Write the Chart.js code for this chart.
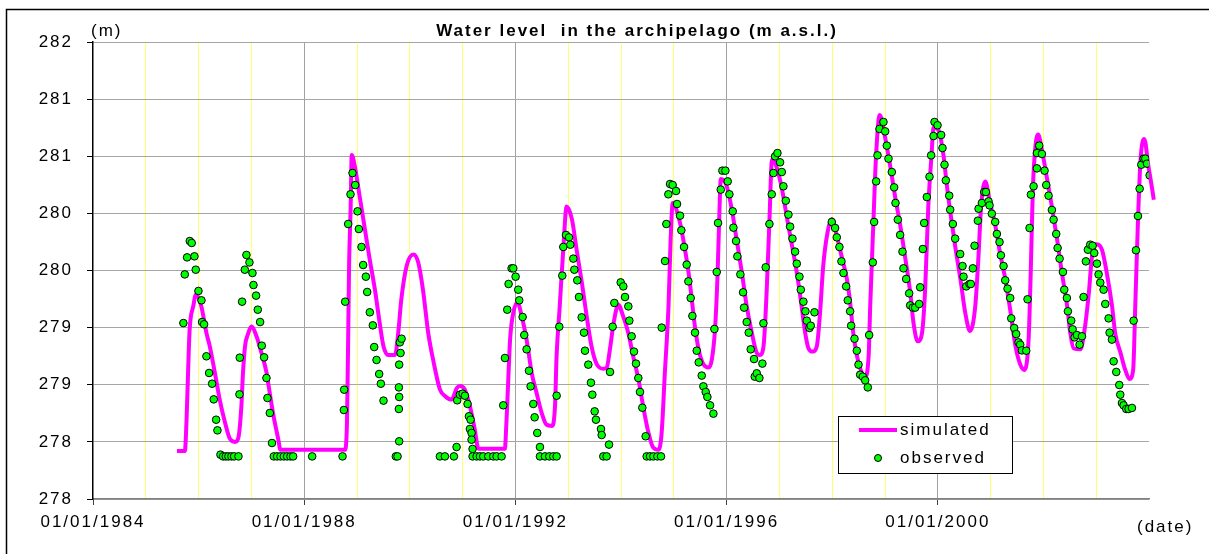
<!DOCTYPE html>
<html>
<head>
<meta charset="utf-8">
<title>Water level in the archipelago</title>
<script src="https://cdn.jsdelivr.net/npm/chart.js@4.4.0/dist/chart.umd.min.js"></script>
<style>
    html, body { margin: 0; padding: 0; background: #fff; }
    #wrap { position: relative; width: 1209px; height: 554px; }
</style>
</head>
<body>
<div id="wrap"><canvas id="levelChart" width="1209" height="554"></canvas></div>
<script>
// Axis labels (the y labels are shown rounded, as in the original)
const yTickLabels = ['278', '278', '279', '279', '280', '280', '281', '281', '282'];
const labelYears = [1984, 1988, 1992, 1996, 2000];
const titleText = 'Water level  in the archipelago (m a.s.l.)';

// Simulated level (decimal year / m a.s.l.)
const simYears = [
    1985.59, 1985.74, 1985.77, 1985.80, 1985.83, 1985.90, 1985.95, 1986.05, 1986.15, 1986.21,
    1986.31, 1986.40, 1986.50, 1986.59, 1986.69, 1986.75, 1986.81, 1986.84, 1986.88, 1986.94,
    1987.00, 1987.10, 1987.19, 1987.29, 1987.33, 1987.41, 1987.51, 1987.55, 1988.77, 1988.81,
    1988.83, 1988.85, 1988.88, 1988.90, 1988.96, 1989.05, 1989.15, 1989.24, 1989.34, 1989.43,
    1989.50, 1989.59, 1989.72, 1989.78, 1989.84, 1989.94, 1990.07, 1990.16, 1990.25, 1990.35,
    1990.45, 1990.57, 1990.67, 1990.79, 1990.89, 1990.95, 1991.04, 1991.14, 1991.23, 1991.30,
    1991.80, 1991.83, 1991.87, 1991.90, 1991.96, 1992.04, 1992.12, 1992.21, 1992.31, 1992.40,
    1992.50, 1992.59, 1992.69, 1992.75, 1992.78, 1992.84, 1992.91, 1992.97, 1993.07, 1993.16,
    1993.26, 1993.35, 1993.44, 1993.54, 1993.67, 1993.73, 1993.79, 1993.86, 1993.95, 1994.04,
    1994.14, 1994.23, 1994.33, 1994.42, 1994.52, 1994.61, 1994.71, 1994.77, 1994.83, 1994.90,
    1994.94, 1994.98, 1995.09, 1995.18, 1995.28, 1995.34, 1995.40, 1995.47, 1995.56, 1995.66,
    1995.72, 1995.78, 1995.83, 1995.86, 1995.89, 1996.00, 1996.10, 1996.19, 1996.29, 1996.38,
    1996.48, 1996.57, 1996.63, 1996.70, 1996.76, 1996.81, 1996.86, 1996.95, 1997.05, 1997.14,
    1997.23, 1997.33, 1997.42, 1997.49, 1997.55, 1997.63, 1997.71, 1997.77, 1997.83, 1997.91,
    1997.99, 1998.09, 1998.18, 1998.28, 1998.34, 1998.40, 1998.47, 1998.54, 1998.62, 1998.69,
    1998.72, 1998.78, 1998.83, 1998.90, 1999.00, 1999.10, 1999.19, 1999.29, 1999.38, 1999.48,
    1999.54, 1999.62, 1999.70, 1999.76, 1999.82, 1999.88, 1999.92, 2000.01, 2000.11, 2000.17,
    2000.24, 2000.33, 2000.43, 2000.52, 2000.61, 2000.71, 2000.77, 2000.82, 2000.90, 2000.99,
    2001.09, 2001.18, 2001.28, 2001.37, 2001.47, 2001.56, 2001.64, 2001.72, 2001.76, 2001.80,
    2001.85, 2001.90, 2001.97, 2002.07, 2002.16, 2002.26, 2002.35, 2002.45, 2002.51, 2002.57,
    2002.70, 2002.77, 2002.86, 2002.92, 2003.01, 2003.11, 2003.20, 2003.30, 2003.36, 2003.46,
    2003.55, 2003.63, 2003.70, 2003.74, 2003.79, 2003.84, 2003.91, 2003.99, 2004.09, 2004.12
];
const simLevels = [
    278.42, 278.42, 278.67, 279.10, 279.48, 279.69, 279.79, 279.69, 279.45, 279.34,
    279.10, 278.87, 278.67, 278.53, 278.50, 278.53, 278.81, 279.10, 279.34, 279.45,
    279.51, 279.42, 279.28, 279.10, 278.98, 278.75, 278.52, 278.43, 278.43, 278.67,
    279.31, 280.04, 280.56, 281.01, 280.91, 280.65, 280.36, 280.10, 279.83, 279.54,
    279.34, 279.26, 279.26, 279.45, 279.75, 280.04, 280.14, 280.07, 279.83, 279.45,
    279.20, 278.96, 278.90, 278.87, 278.97, 278.99, 278.96, 278.81, 278.61, 278.44,
    278.44, 278.67, 279.10, 279.40, 279.63, 279.72, 279.60, 279.40, 279.10, 278.93,
    278.75, 278.65, 278.64, 278.81, 279.25, 279.69, 280.21, 280.56, 280.45, 280.18,
    279.89, 279.60, 279.34, 279.18, 279.14, 279.15, 279.31, 279.54, 279.70, 279.60,
    279.45, 279.25, 279.05, 278.81, 278.58, 278.45, 278.43, 278.58, 279.10, 279.69,
    280.27, 280.59, 280.47, 280.27, 279.98, 279.75, 279.51, 279.31, 279.18, 279.15,
    279.22, 279.48, 279.98, 280.45, 280.80, 280.74, 280.53, 280.27, 279.98, 279.69,
    279.45, 279.28, 279.26, 279.34, 279.83, 280.42, 280.97, 280.90, 280.71, 280.47,
    280.24, 279.98, 279.69, 279.45, 279.32, 279.29, 279.34, 279.63, 280.04, 280.33,
    280.45, 280.30, 280.12, 279.92, 279.72, 279.45, 279.25, 279.13, 279.07, 279.25,
    279.69, 280.42, 281.00, 281.36, 281.17, 280.91, 280.65, 280.39, 280.12, 279.80,
    279.54, 279.38, 279.45, 279.83, 280.56, 281.00, 281.25, 281.23, 281.00, 280.75,
    280.50, 280.21, 279.92, 279.63, 279.47, 279.69, 280.12, 280.56, 280.78, 280.59,
    280.39, 280.15, 279.92, 279.66, 279.34, 279.18, 279.13, 279.40, 279.98, 280.71,
    281.09, 281.19, 281.06, 280.80, 280.56, 280.27, 279.98, 279.69, 279.45, 279.32,
    279.31, 279.45, 279.80, 280.12, 280.23, 280.18, 279.98, 279.69, 279.45, 279.28,
    279.13, 279.05, 279.13, 279.69, 280.42, 280.97, 281.15, 280.91, 280.62, 280.50
];

// Observed level (decimal year / m a.s.l.)
const obsYears = [
    1985.712, 1985.738, 1985.782, 1985.833, 1985.870, 1985.921, 1985.946, 1985.997, 1986.054, 1986.066,
    1986.104, 1986.148, 1986.199, 1986.256, 1986.287, 1986.332, 1986.357, 1986.414, 1986.464, 1986.515,
    1986.565, 1986.622, 1986.673, 1986.755, 1986.774, 1986.780, 1986.824, 1986.875, 1986.906, 1986.963,
    1987.020, 1987.039, 1987.089, 1987.121, 1987.165, 1987.197, 1987.241, 1987.285, 1987.304, 1987.349,
    1987.390, 1987.424, 1987.487, 1987.551, 1987.614, 1987.677, 1987.740, 1987.791, 1988.151, 1988.726,
    1988.751, 1988.757, 1988.776, 1988.833, 1988.877, 1988.915, 1988.966, 1989.010, 1989.035, 1989.086,
    1989.117, 1989.168, 1989.193, 1989.243, 1989.300, 1989.326, 1989.370, 1989.420, 1989.452, 1989.502,
    1989.736, 1989.768, 1989.793, 1989.793, 1989.799, 1989.799, 1989.799, 1989.812, 1989.825, 1989.844,
    1990.570, 1990.665, 1990.835, 1990.886, 1990.898, 1990.949, 1991.000, 1991.044, 1991.094, 1991.120,
    1991.139, 1991.151, 1991.170, 1991.170, 1991.189, 1991.189, 1991.265, 1991.328, 1991.391, 1991.486,
    1991.581, 1991.644, 1991.739, 1991.770, 1991.802, 1991.846, 1991.871, 1991.928, 1991.960, 1992.004,
    1992.054, 1992.073, 1992.137, 1992.168, 1992.212, 1992.257, 1992.288, 1992.339, 1992.364, 1992.414,
    1992.465, 1992.465, 1992.560, 1992.642, 1992.718, 1992.781, 1992.781, 1992.831, 1992.888, 1992.907,
    1992.958, 1993.015, 1993.040, 1993.097, 1993.116, 1993.172, 1993.204, 1993.255, 1993.299, 1993.318,
    1993.381, 1993.431, 1993.457, 1993.501, 1993.526, 1993.621, 1993.634, 1993.665, 1993.728, 1993.773,
    1993.792, 1993.842, 1993.874, 1993.994, 1994.044, 1994.076, 1994.139, 1994.158, 1994.202, 1994.246,
    1994.284, 1994.328, 1994.360, 1994.404, 1994.467, 1994.486, 1994.550, 1994.613, 1994.689, 1994.758,
    1994.771, 1994.834, 1994.859, 1994.897, 1994.929, 1994.979, 1995.042, 1995.061, 1995.118, 1995.143,
    1995.194, 1995.244, 1995.276, 1995.320, 1995.352, 1995.402, 1995.434, 1995.472, 1995.529, 1995.560,
    1995.604, 1995.636, 1995.687, 1995.750, 1995.769, 1995.813, 1995.838, 1995.889, 1995.920, 1995.977,
    1996.021, 1996.053, 1996.116, 1996.129, 1996.179, 1996.204, 1996.261, 1996.312, 1996.331, 1996.381,
    1996.419, 1996.457, 1996.520, 1996.533, 1996.571, 1996.621, 1996.678, 1996.697, 1996.741, 1996.811,
    1996.855, 1996.887, 1996.918, 1996.963, 1997.013, 1997.045, 1997.076, 1997.121, 1997.171, 1997.203,
    1997.247, 1997.297, 1997.329, 1997.380, 1997.405, 1997.455, 1997.493, 1997.518, 1997.569, 1997.594,
    1997.664, 1997.992, 1998.055, 1998.087, 1998.137, 1998.175, 1998.213, 1998.264, 1998.295, 1998.340,
    1998.359, 1998.422, 1998.466, 1998.498, 1998.529, 1998.580, 1998.624, 1998.674, 1998.700, 1998.769,
    1998.794, 1998.832, 1998.858, 1998.896, 1998.971, 1999.003, 1999.034, 1999.066, 1999.129, 1999.173,
    1999.199, 1999.243, 1999.287, 1999.331, 1999.350, 1999.401, 1999.458, 1999.477, 1999.527, 1999.571,
    1999.647, 1999.666, 1999.717, 1999.742, 1999.792, 1999.843, 1999.874, 1999.919, 1999.938, 1999.995,
    2000.064, 2000.089, 2000.127, 2000.152, 2000.216, 2000.235, 2000.285, 2000.329, 2000.424, 2000.468,
    2000.487, 2000.538, 2000.601, 2000.626, 2000.664, 2000.696, 2000.759, 2000.772, 2000.835, 2000.879,
    2000.911, 2000.961, 2000.980, 2001.024, 2001.087, 2001.119, 2001.169, 2001.195, 2001.245, 2001.277,
    2001.321, 2001.372, 2001.391, 2001.447, 2001.485, 2001.530, 2001.561, 2001.593, 2001.675, 2001.700,
    2001.738, 2001.763, 2001.814, 2001.877, 2001.877, 2001.921, 2001.972, 2002.022, 2002.054, 2002.098,
    2002.161, 2002.193, 2002.243, 2002.269, 2002.307, 2002.370, 2002.395, 2002.445, 2002.464, 2002.527,
    2002.553, 2002.591, 2002.635, 2002.685, 2002.730, 2002.761, 2002.805, 2002.843, 2002.887, 2002.932,
    2002.963, 2003.014, 2003.045, 2003.077, 2003.140, 2003.172, 2003.235, 2003.254, 2003.298, 2003.330,
    2003.380, 2003.437, 2003.456, 2003.488, 2003.519, 2003.570, 2003.614, 2003.677, 2003.709, 2003.753,
    2003.791, 2003.823, 2003.854, 2003.898, 2003.930, 2003.962, 2004.012
];
const obsLevels = [
    279.540, 279.966, 280.115, 280.258, 280.241, 280.124, 280.007, 279.821, 279.739, 279.549,
    279.529, 279.249, 279.103, 279.009, 278.872, 278.694, 278.601, 278.388, 278.373, 278.373,
    278.373, 278.373, 278.373, 278.373, 278.916, 279.237, 279.727, 280.007, 280.136, 280.071,
    279.978, 279.873, 279.780, 279.657, 279.549, 279.342, 279.240, 279.059, 278.884, 278.753,
    278.490, 278.373, 278.373, 278.373, 278.373, 278.373, 278.373, 278.373, 278.373, 278.373,
    278.779, 278.957, 279.727, 280.407, 280.667, 280.853, 280.748, 280.518, 280.363, 280.206,
    280.048, 279.946, 279.812, 279.634, 279.520, 279.330, 279.217, 279.094, 279.009, 278.861,
    278.373, 278.373, 278.788, 278.977, 278.505, 278.893, 279.176, 279.371, 279.278, 279.403,
    278.373, 278.373, 278.373, 278.455, 278.864, 278.913, 278.922, 278.904, 278.832, 278.724,
    278.613, 278.694, 278.578, 278.519, 278.438, 278.373, 278.373, 278.373, 278.373, 278.373,
    278.373, 278.373, 278.373, 278.820, 279.234, 279.657, 279.882, 280.019, 280.019, 279.946,
    279.832, 279.739, 279.593, 279.435, 279.310, 279.123, 278.986, 278.832, 278.715, 278.578,
    278.455, 278.373, 278.373, 278.373, 278.373, 278.373, 278.904, 279.508, 279.955, 280.206,
    280.311, 280.290, 280.226, 280.104, 280.007, 279.914, 279.768, 279.590, 279.456, 279.298,
    279.176, 279.018, 278.913, 278.767, 278.694, 278.613, 278.560, 278.373, 278.373, 278.476,
    279.112, 279.508, 279.716, 279.896, 279.861, 279.768, 279.686, 279.561, 279.424, 279.290,
    279.185, 279.059, 278.937, 278.799, 278.549, 278.373, 278.373, 278.373, 278.373, 278.373,
    279.500, 280.083, 280.407, 280.667, 280.757, 280.748, 280.696, 280.582, 280.480, 280.352,
    280.206, 280.051, 279.905, 279.759, 279.602, 279.456, 279.298, 279.196, 279.080, 278.986,
    278.937, 278.893, 278.820, 278.747, 279.488, 279.987, 280.416, 280.708, 280.874, 280.874,
    280.780, 280.667, 280.518, 280.375, 280.258, 280.124, 279.966, 279.809, 279.675, 279.549,
    279.456, 279.310, 279.225, 279.071, 279.100, 279.059, 279.185, 279.538, 280.028, 280.407,
    280.667, 280.853, 280.999, 281.028, 280.947, 280.862, 280.737, 280.611, 280.489, 280.384,
    280.279, 280.165, 280.060, 279.946, 279.832, 279.727, 279.643, 279.561, 279.497, 279.517,
    279.634, 280.425, 280.372, 280.290, 280.206, 280.080, 279.978, 279.861, 279.739, 279.643,
    279.517, 279.403, 279.298, 279.176, 279.088, 279.071, 279.039, 278.977, 279.435, 280.071,
    280.425, 280.780, 281.008, 281.239, 281.300, 281.218, 281.093, 280.979, 280.862, 280.728,
    280.591, 280.445, 280.311, 280.165, 280.019, 279.926, 279.800, 279.695, 279.675, 279.675,
    279.707, 279.853, 280.188, 280.416, 280.643, 280.821, 281.008, 281.177, 281.300, 281.271,
    281.186, 281.072, 280.926, 280.789, 280.655, 280.532, 280.407, 280.279, 280.144, 280.039,
    279.946, 279.861, 279.882, 279.882, 280.019, 280.217, 280.436, 280.541, 280.591, 280.687,
    280.687, 280.605, 280.570, 280.497, 280.425, 280.320, 280.249, 280.133, 280.039, 279.914,
    279.841, 279.759, 279.581, 279.497, 279.444, 279.371, 279.351, 279.301, 279.298, 279.748,
    280.372, 280.664, 280.737, 280.894, 281.028, 281.093, 281.020, 280.874, 280.748, 280.655,
    280.530, 280.445, 280.320, 280.197, 280.104, 279.987, 279.832, 279.759, 279.643, 279.561,
    279.485, 279.415, 279.435, 279.351, 279.424, 279.768, 280.080, 280.182, 280.226, 280.217,
    280.153, 280.060, 279.966, 279.894, 279.832, 279.707, 279.581, 279.456, 279.395, 279.205,
    279.112, 278.998, 278.913, 278.840, 278.820, 278.788, 278.788, 278.797, 279.561, 280.177,
    280.477, 280.716, 280.926, 280.979, 280.979, 280.935, 280.833
];

const FONT = '"Liberation Sans", Arial, Helvetica, sans-serif';
const SPACING = '2px';

// Title, unit captions, outer frame and legend box
const decorPlugin = {
    id: 'decor',
    beforeUpdate(chart) {
        chart.ctx.letterSpacing = SPACING;
    },
    beforeDraw(chart) {
        chart.ctx.letterSpacing = SPACING;
    },
    afterDraw(chart) {
        const c = chart.ctx;
        c.save();
        c.letterSpacing = SPACING;

        // outer frame (runs off the picture on the right and bottom)
        c.strokeStyle = '#000';
        c.lineWidth = 1.5;
        c.strokeRect(6.5, 9.5, 1230, 570);

        c.fillStyle = '#000';
        c.textBaseline = 'middle';
        c.textAlign = 'center';
        c.font = 'bold 17px ' + FONT;
        c.fillText(titleText, 637, 31);

        c.textAlign = 'left';
        c.font = '17px ' + FONT;
        c.fillText('(m)', 91, 31);
        c.fillText('(date)', 1137, 527);

        // legend
        c.fillStyle = '#fff';
        c.fillRect(838, 416, 174, 57);
        c.strokeStyle = '#000';
        c.lineWidth = 1;
        c.strokeRect(838.5, 416.5, 174, 57);

        c.strokeStyle = '#ff00ff';
        c.lineWidth = 4;
        c.beginPath();
        c.moveTo(859, 430);
        c.lineTo(897, 430);
        c.stroke();

        c.beginPath();
        c.arc(878, 458, 3.5, 0, Math.PI * 2);
        c.fillStyle = '#00ff00';
        c.fill();
        c.lineWidth = 1;
        c.strokeStyle = '#000';
        c.stroke();

        c.fillStyle = '#000';
        c.font = '17px ' + FONT;
        c.fillText('simulated', 900, 430);
        c.fillText('observed', 900, 458);
        c.restore();
    }
};

const ctx = document.getElementById('levelChart').getContext('2d');
new Chart(ctx, {
    type: 'scatter',
    data: {
        datasets: [{
            label: 'simulated',
            type: 'line',
            data: simYears.map((x, i) => ({ x: x, y: simLevels[i] })),
            borderColor: '#ff00ff',
            borderWidth: 4,
            pointRadius: 0,
            fill: false,
            cubicInterpolationMode: 'monotone',
            clip: { left: 0, top: 5, right: 10, bottom: 5 },
            order: 2
        }, {
            label: 'observed',
            data: obsYears.map((x, i) => ({ x: x, y: obsLevels[i] })),
            backgroundColor: '#00ff00',
            borderColor: '#000',
            borderWidth: 1,
            pointRadius: 3.8,
            order: 1
        }]
    },
    options: {
        responsive: false,
        animation: false,
        events: [],
        layout: { padding: { left: 0, right: 60, top: 42, bottom: 0 } },
        plugins: {
            legend: { display: false },
            title: { display: false },
            tooltip: { enabled: false }
        },
        scales: {
            x: {
                type: 'linear',
                min: 1984,
                max: 2004,
                afterBuildTicks: function(axis) {
                    const ticks = [];
                    for (let y = 1984; y <= 2004; y++) ticks.push({ value: y });
                    axis.ticks = ticks;
                },
                afterFit: function(scale) { scale.height = 55; },
                ticks: {
                    autoSkip: false,
                    maxRotation: 0,
                    padding: 7,
                    color: '#000',
                    font: { family: FONT, size: 17 },
                    callback: function(value) {
                        return labelYears.includes(value) ? '01/01/' + value : '';
                    }
                },
                grid: {
                    lineWidth: 1,
                    tickLength: 6,
                    color: function(c) {
                        const v = c.tick ? c.tick.value : null;
                        if (v === 1984 || v === 2004) return 'rgba(0,0,0,0)';
                        return labelYears.includes(v) ? '#a0a0a0' : '#ffff70';
                    },
                    tickColor: function(c) {
                        const v = c.tick ? c.tick.value : null;
                        return labelYears.includes(v) ? '#404040' : 'rgba(0,0,0,0)';
                    }
                },
                border: { color: '#808080', width: 1.5 }
            },
            y: {
                min: 278,
                max: 282,
                afterFit: function(scale) { scale.width = 93; },
                ticks: {
                    stepSize: 0.5,
                    padding: 14,
                    color: '#000',
                    font: { family: FONT, size: 17 },
                    callback: function(value, index) { return yTickLabels[index]; }
                },
                grid: {
                    color: '#a6a6a6',
                    lineWidth: 1,
                    tickLength: 6,
                    tickColor: '#000'
                },
                border: { color: '#000', width: 1.5 }
            }
        }
    },
    plugins: [decorPlugin]
});
</script>
</body>
</html>
